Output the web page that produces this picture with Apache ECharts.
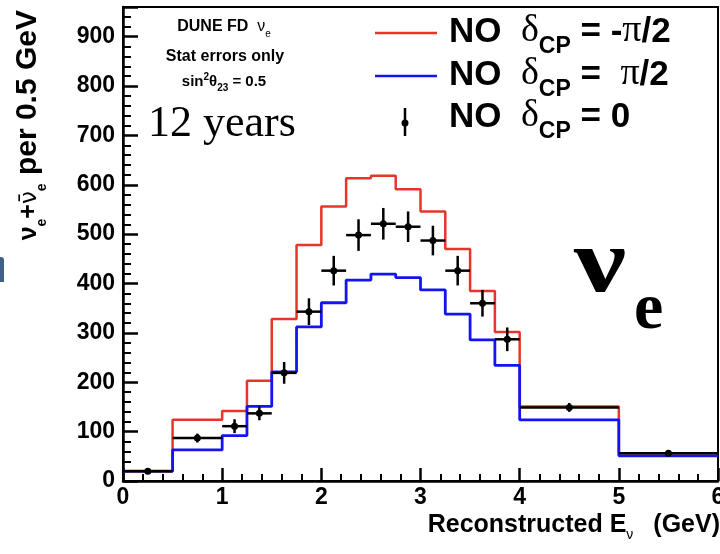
<!DOCTYPE html>
<html>
<head>
<meta charset="utf-8">
<script src="https://cdn.jsdelivr.net/npm/echarts@6/dist/echarts.min.js"></script>
<style>
html,body{margin:0;padding:0;background:#fff;}
#chart{width:720px;height:554px;}
</style>
</head>
<body>
<div id="chart"></div>
<script>
// Bin edges (GeV)
const binEdges = [0, 0.5, 1, 1.25, 1.5, 1.75, 2, 2.25, 2.5, 2.75, 3, 3.25, 3.5, 3.75, 4, 5, 6];
// NO dCP = -pi/2 (red)
const redValues = [20, 124, 142, 203, 328, 478, 556, 613, 618, 591, 546, 470, 385, 302, 151, 56];
// NO dCP = pi/2 (blue)
const blueValues = [20, 63, 92, 151, 221, 312, 361, 407, 419, 412, 387, 338, 286, 234, 124, 51];
// NO dCP = 0 (black points) and stat errors
const blackValues = [20, 87, 111, 137, 219, 343, 426, 498, 521, 515, 487, 426, 360, 287, 149, 56];
const blackErrors = [4, 9, 14, 14, 22, 27, 30, 32, 32, 31, 30, 30, 27, 24, 9, 5];
const xTicks = [0, 1, 2, 3, 4, 5, 6];
const yTicks = [0, 100, 200, 300, 400, 500, 600, 700, 800, 900];

function histData(vals) {
  const d = vals.map((v, i) => [binEdges[i], v]);
  d.push([binEdges[binEdges.length - 1], vals[vals.length - 1]]);
  return d;
}
const pointData = blackValues.map((v, i) => [binEdges[i], binEdges[i + 1], v, blackErrors[i]]);

const SANS = 'Liberation Sans';
const SERIF = 'Liberation Serif';

const chart = echarts.init(document.getElementById('chart'), null, {renderer: 'canvas'});

const axisCommon = {
  axisLine: {show: true, onZero: false, lineStyle: {color: '#000', width: 2.5}},
  splitLine: {show: false},
  axisLabel: {color: '#000', fontSize: 23, fontWeight: 'bold', fontFamily: SANS}
};

const legendRich = {
  b: {fontFamily: SANS, fontWeight: 'bold', fontSize: 35, lineHeight: 35, padding: [0, 0, 8, 0], verticalAlign: 'bottom', fill: '#000'},
  g: {fontFamily: SERIF, fontSize: 38, lineHeight: 38, padding: [0, 0, 8, 0], verticalAlign: 'bottom', fill: '#000'},
  s: {fontFamily: SANS, fontWeight: 'bold', fontSize: 23, lineHeight: 23, verticalAlign: 'bottom', fill: '#000'}
};

const option = {
  backgroundColor: '#fff',
  animation: false,
  grid: {left: 123, right: 2, top: 7, bottom: 73, containLabel: false, outerBoundsMode: 'none',
         show: true, borderColor: '#000', borderWidth: 2, backgroundColor: 'transparent'},
  xAxis: Object.assign({}, axisCommon, {
    type: 'value', min: xTicks[0], max: xTicks[xTicks.length - 1], interval: 1,
    axisTick: {show: true, inside: true, length: 13, lineStyle: {color: '#000', width: 2.5}},
    minorTick: {show: true, splitNumber: 5, length: 7, lineStyle: {color: '#000', width: 2}},
    axisLabel: Object.assign({}, axisCommon.axisLabel, {margin: 5, formatter: v => xTicks.includes(v) ? String(v) : ''})
  }),
  yAxis: Object.assign({}, axisCommon, {
    type: 'value', min: 0, max: 960, interval: 100,
    axisTick: {show: true, inside: true, length: 15, lineStyle: {color: '#000', width: 2.5}},
    minorTick: {show: true, splitNumber: 5, length: 8, lineStyle: {color: '#000', width: 2}},
    axisLabel: Object.assign({}, axisCommon.axisLabel, {margin: 8, formatter: v => yTicks.includes(v) ? String(v) : ''})
  }),
  series: [
    {
      name: 'NO dCP = -pi/2', type: 'line', step: 'end', data: histData(redValues),
      showSymbol: false, lineStyle: {color: '#e8352b', width: 2.5}, z: 2
    },
    {
      name: 'NO dCP = pi/2', type: 'line', step: 'end', data: histData(blueValues),
      showSymbol: false, lineStyle: {color: '#1414f0', width: 2.8}, z: 3
    },
    {
      name: 'NO dCP = 0', type: 'custom', z: 4,
      data: pointData,
      renderItem: function (params, api) {
        const x0 = api.value(0), x1 = api.value(1), y = api.value(2), e = api.value(3);
        const xc = (x0 + x1) / 2;
        const pL = api.coord([x0, y]), pR = api.coord([x1, y]);
        const pT = api.coord([xc, y + e]), pB = api.coord([xc, y - e]);
        const c = api.coord([xc, y]);
        const st = {stroke: '#000', lineWidth: 2.5};
        return {
          type: 'group',
          children: [
            {type: 'line', shape: {x1: pL[0], y1: pL[1], x2: pR[0], y2: pR[1]}, style: st},
            {type: 'line', shape: {x1: pT[0], y1: pT[1], x2: pB[0], y2: pB[1]}, style: st},
            {type: 'circle', shape: {cx: c[0], cy: c[1], r: 3.5}, style: {fill: '#000'}}
          ]
        };
      }
    }
  ],
  graphic: [
    // left-edge fragment
    {type: 'rect', shape: {x: 0, y: 257, width: 4, height: 25, r: [0, 3, 0, 0]}, style: {fill: '#3f6088'}},
    // Y axis title
    {
      type: 'text', x: 34, y: 10, rotation: Math.PI / 2,
      style: {
        text: '{v|ν}{s|e}{v|+}{d|ν\u0304}{s|e}{b| per 0.5 GeV}',
        align: 'right', verticalAlign: 'middle',
        rich: {
          b: {fontFamily: SANS, fontWeight: 'bold', fontSize: 30, lineHeight: 30, padding: [0, 0, 6, 0], verticalAlign: 'bottom', fill: '#000'},
          v: {fontFamily: SANS, fontWeight: 'bold', fontSize: 25, lineHeight: 25, padding: [0, 0, 7, 0], verticalAlign: 'bottom', fill: '#000'},
          d: {fontFamily: 'DejaVu Sans', fontSize: 23, lineHeight: 25, padding: [0, 0, 7, 0], verticalAlign: 'bottom', fill: '#000'},
          s: {fontFamily: SANS, fontWeight: 'bold', fontSize: 14, lineHeight: 14, verticalAlign: 'bottom', fill: '#000'}
        }
      }
    },
    // X axis title
    {
      type: 'text', x: 720, y: 530,
      style: {
        text: '{b|Reconstructed E}{s|ν}{g|(GeV)}',
        align: 'right', verticalAlign: 'middle',
        rich: {
          b: {fontFamily: SANS, fontWeight: 'bold', fontSize: 25, lineHeight: 25, padding: [0, 0, 5, 0], verticalAlign: 'bottom', fill: '#000'},
          g: {fontFamily: SANS, fontWeight: 'bold', fontSize: 25, lineHeight: 25, padding: [0, 0, 5, 20], verticalAlign: 'bottom', fill: '#000'},
          s: {fontFamily: SANS, fontSize: 14, lineHeight: 14, verticalAlign: 'bottom', fill: '#000'}
        }
      }
    },
    // Info text
    {
      type: 'text', x: 224, y: 31,
      style: {
        text: '{b|DUNE FD  }{g|ν}{s|e}', align: 'center', verticalAlign: 'middle',
        rich: {
          b: {fontFamily: SANS, fontWeight: 'bold', fontSize: 16, lineHeight: 16, padding: [0, 0, 4, 0], verticalAlign: 'bottom', fill: '#000'},
          g: {fontFamily: SANS, fontSize: 16, lineHeight: 16, padding: [0, 0, 4, 0], verticalAlign: 'bottom', fill: '#000'},
          s: {fontFamily: SANS, fontSize: 10, lineHeight: 10, verticalAlign: 'bottom', fill: '#000'}
        }
      }
    },
    {
      type: 'text', x: 225, y: 57,
      style: {text: 'Stat errors only', align: 'center', verticalAlign: 'middle', fontFamily: SANS, fontWeight: 'bold', fontSize: 16, fill: '#000'}
    },
    {
      type: 'text', x: 224, y: 86,
      style: {
        text: '{n|sin}{p|2}{n|θ}{s|23}{n| = 0.5}', align: 'center', verticalAlign: 'middle',
        rich: {
          n: {fontFamily: SANS, fontWeight: 'bold', fontSize: 15, lineHeight: 15, padding: [0, 0, 4, 0], verticalAlign: 'bottom', fill: '#000'},
          p: {fontFamily: SANS, fontWeight: 'bold', fontSize: 10, lineHeight: 10, padding: [0, 0, 11, 0], verticalAlign: 'bottom', fill: '#000'},
          s: {fontFamily: SANS, fontWeight: 'bold', fontSize: 10, lineHeight: 10, verticalAlign: 'bottom', fill: '#000'}
        }
      }
    },
    {
      type: 'text', x: 148, y: 124,
      style: {text: '12 years', align: 'left', verticalAlign: 'middle', fontFamily: SERIF, fontSize: 44, fill: '#000'}
    },
    // Big nu_e
    {
      type: 'text', x: 574, y: 268, scaleX: 1.3,
      style: {text: 'ν', align: 'left', verticalAlign: 'middle', fontFamily: SERIF, fontWeight: 'bold', fontSize: 90, fill: '#000'}
    },
    {
      type: 'text', x: 634, y: 311,
      style: {text: 'e', align: 'left', verticalAlign: 'middle', fontFamily: SERIF, fontWeight: 'bold', fontSize: 66, fill: '#000'}
    },
    // Legend
    {type: 'line', shape: {x1: 375, y1: 33, x2: 437, y2: 33}, style: {stroke: '#e8352b', lineWidth: 2.5}},
    {type: 'line', shape: {x1: 375, y1: 76, x2: 437, y2: 76}, style: {stroke: '#1414f0', lineWidth: 2.5}},
    {type: 'line', shape: {x1: 405, y1: 108, x2: 405, y2: 136}, style: {stroke: '#000', lineWidth: 2.5}},
    {type: 'circle', shape: {cx: 405, cy: 123, r: 3.5}, style: {fill: '#000'}},
    {
      type: 'text', x: 449, y: 39,
      style: {text: '{b|NO  }{g|δ}{s|CP}{b| = -}{g|π}{b|/2}', align: 'left', verticalAlign: 'middle', rich: legendRich}
    },
    {
      type: 'text', x: 449, y: 82,
      style: {text: '{b|NO  }{g|δ}{s|CP}{b| =  }{g|π}{b|/2}', align: 'left', verticalAlign: 'middle', rich: legendRich}
    },
    {
      type: 'text', x: 449, y: 124,
      style: {text: '{b|NO  }{g|δ}{s|CP}{b| = 0}', align: 'left', verticalAlign: 'middle', rich: legendRich}
    }
  ]
};
chart.setOption(option);
</script>
</body>
</html>
